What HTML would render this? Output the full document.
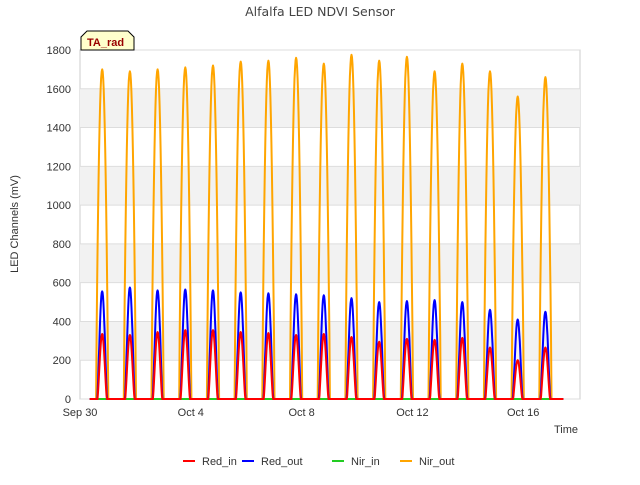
<!DOCTYPE html>
<html><head><meta charset="utf-8"><style>
body{margin:0;background:#fff;font-family:"Liberation Sans","DejaVu Sans",sans-serif}
</style></head><body>
<svg id="c" width="640" height="480" xmlns="http://www.w3.org/2000/svg"></svg>
<script>
const dayTicks = [0, 4, 8, 12, 16];
const dayLabels = ["Sep 30", "Oct 4", "Oct 8", "Oct 12", "Oct 16"];
const yTicks = [0, 200, 400, 600, 800, 1000, 1200, 1400, 1600, 1800];
const days = [0,1,2,3,4,5,6,7,8,9,10,11,12,13,14,15,16];
const nirOutPeaks = [1700,1690,1700,1710,1720,1740,1745,1760,1730,1775,1745,1765,1690,1730,1690,1560,1660];
const redOutPeaks = [555,575,560,565,560,550,545,540,535,520,500,505,510,500,460,410,450];
const redInPeaks = [335,330,345,355,355,345,340,330,335,320,295,310,305,315,265,200,265];
const nirInPeaks = [0,0,0,0,0,0,0,0,0,0,0,0,0,0,0,0,0];

const NS="http://www.w3.org/2000/svg", svg=document.getElementById('c');
const X0=80,X1=580,Y0=399,Y1=50, D0=0, D1=18.05;
const xs=d=>X0+(d-D0)/(D1-D0)*(X1-X0);
const ys=v=>Y0-v/1800*(Y0-Y1);
function mk(t,a,p){const e=document.createElementNS(NS,t);for(const k in a)e.setAttribute(k,a[k]);(p||svg).appendChild(e);return e;}

const bg=mk('rect',{x:X0,y:Y1,width:X1-X0,height:Y0-Y1,fill:'#fff',stroke:'#ccc'});


for(let i=0;i<yTicks.length-1;i++){
  if(i%2===1){
    const b=mk('rect',{x:X0,y:ys(yTicks[i+1]),width:X1-X0,height:ys(yTicks[i])-ys(yTicks[i+1]),fill:'#f2f2f2'});
    
    
  }
}
yTicks.forEach(v=>{
  const l=mk('line',{x1:X0,x2:X1,y1:ys(v),y2:ys(v),stroke:'#ddd'});
  
  
  const t=mk('text',{x:71,y:ys(v)+4,'text-anchor':'end','font-size':11,fill:'#333'});
  t.textContent=v;
  
  
});
dayTicks.forEach((d,i)=>{
  const t=mk('text',{x:xs(d),y:416,'text-anchor':'middle','font-size':11,fill:'#333'});
  t.textContent=dayLabels[i];
  
  
});

function series(peaks,color,start,len,pw,name){
  const pts=[[xs(0.35),ys(0)]];
  days.forEach((d,i)=>{
    const s=d+start;
    pts.push([xs(s-0.02),ys(0)]);
    for(let k=0;k<=24;k++){
      const t=s+len*k/24;
      const v=peaks[i]*Math.pow(Math.sin(Math.PI*k/24),pw);
      pts.push([xs(t),ys(v)]);
    }
    pts.push([xs(s+len+0.02),ys(0)]);
  });
  pts.push([xs(17.45),ys(0)]);
  const p=mk('path',{d:'M'+pts.map(q=>q[0].toFixed(1)+','+q[1].toFixed(1)).join('L'),fill:'none',stroke:color,'stroke-width':2,'stroke-linejoin':'round'});
  
  
}
series(nirInPeaks,'#22cc22',0.6,0.4,1,'nir-in-line');
series(nirOutPeaks,'#ffa500',0.58,0.44,0.8,'nir-out-line');
series(redOutPeaks,'#0000ff',0.62,0.36,1.4,'red-out-line');
series(redInPeaks,'#ff0000',0.63,0.34,1.4,'red-in-line');

const ti=mk('text',{x:320,y:16,'text-anchor':'middle','font-size':12.5,fill:'#444','font-family':'DejaVu Sans, sans-serif'});
ti.textContent='Alfalfa LED NDVI Sensor';


const yt=mk('text',{x:18,y:224,'text-anchor':'middle','font-size':11,fill:'#333',transform:'rotate(-90 18 224)'});
yt.textContent='LED Channels (mV)';


const xt=mk('text',{x:578,y:433,'text-anchor':'end','font-size':11,fill:'#333'});
xt.textContent='Time';



const tag=mk('path',{d:'M81,50 L81,37 L87,31 L128,31 L134,37 L134,50 Z',fill:'#ffffcc',stroke:'#000','stroke-width':1});


const tt=mk('text',{x:87,y:46,'font-size':11,'font-weight':'bold',fill:'#990000'});
tt.textContent='TA_rad';



const legend=[['Red_in','#ff0000',183,202],['Red_out','#0000ff',242,261],['Nir_in','#22cc22',332,351],['Nir_out','#ffa500',400,419]];
legend.forEach(L=>{
  const g=mk('g',{});
  
  
  mk('line',{x1:L[2],x2:L[2]+12,y1:461,y2:461,stroke:L[1],'stroke-width':2},g);
  const t=mk('text',{x:L[3],y:465,'font-size':11,fill:'#333'},g);
  t.textContent=L[0];
});
</script>
</body></html>
